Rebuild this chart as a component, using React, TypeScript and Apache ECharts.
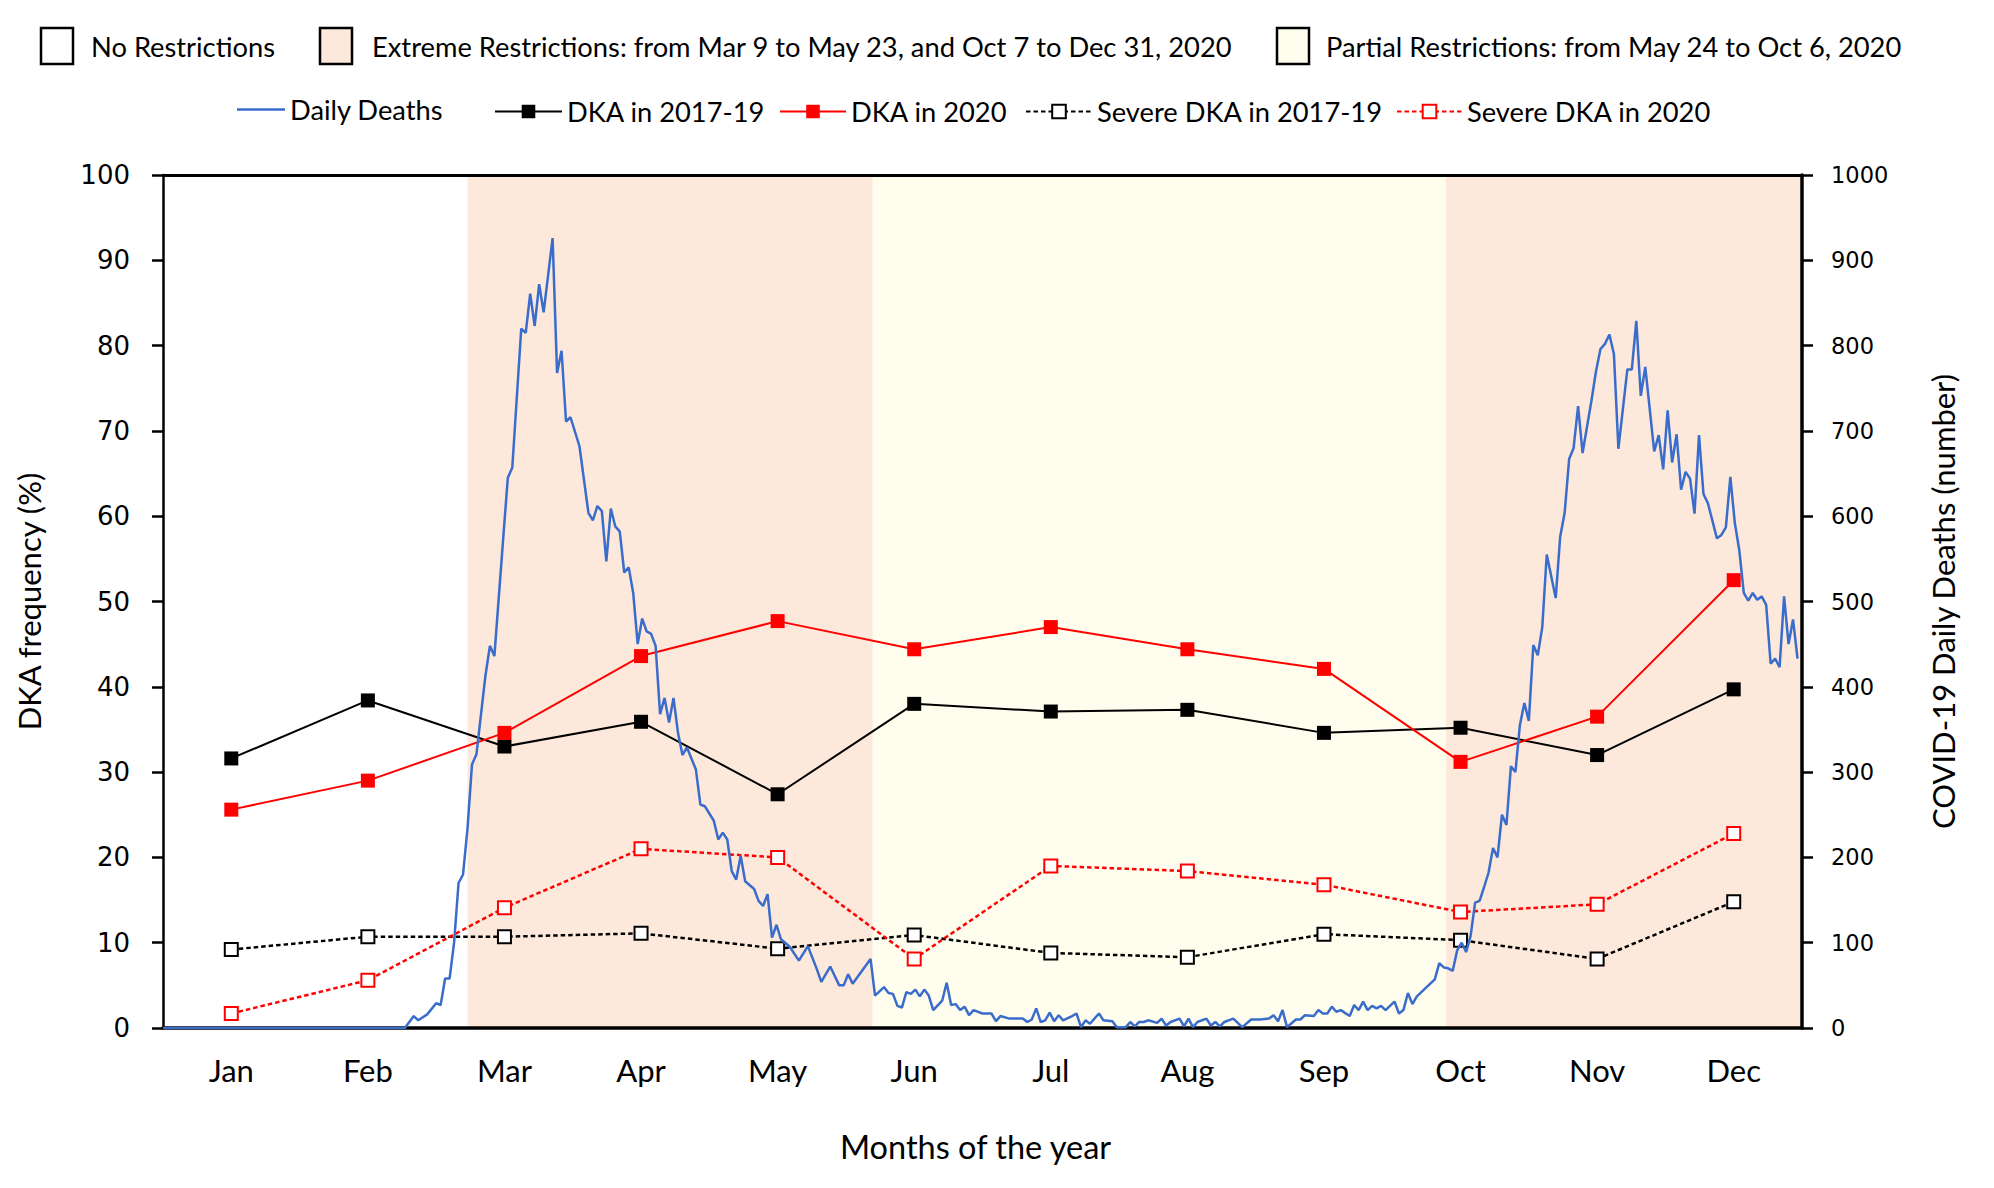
import React, { useEffect, useRef } from 'react';
import * as echarts from 'echarts';

const months = ['Jan', 'Feb', 'Mar', 'Apr', 'May', 'Jun', 'Jul', 'Aug', 'Sep', 'Oct', 'Nov', 'Dec'];
const dka201719 = [31.6, 38.4, 33.0, 35.9, 27.4, 38.0, 37.1, 37.3, 34.6, 35.2, 32.0, 39.7];
const dka2020 = [25.6, 29.0, 34.6, 43.6, 47.7, 44.4, 47.0, 44.4, 42.1, 31.2, 36.5, 52.5];
const severe201719 = [9.2, 10.7, 10.7, 11.1, 9.3, 10.9, 8.8, 8.3, 11.0, 10.3, 8.1, 14.8];
const severe2020 = [1.7, 5.6, 14.1, 21.0, 20.0, 8.1, 19.0, 18.4, 16.8, 13.6, 14.5, 22.8];

// [day of year (Jan 1 = 0), daily deaths]
const dailyDeaths: [number, number][] = [
  [0, 0], [54, 0], [56, 14], [57, 9], [59, 16], [61, 29], [62, 27], [63, 58], [64, 58], [65, 100],
  [66, 170], [67, 180], [68, 234], [69, 309], [70, 321], [72, 413], [73, 448], [74, 436], [76, 576],
  [77, 645], [78, 657], [80, 820], [81, 815], [82, 861], [83, 823], [84, 872], [85, 839], [87, 926],
  [88, 768], [89, 794], [90, 711], [91, 716], [93, 682], [95, 604], [96, 595], [97, 612], [98, 606],
  [99, 547], [100, 609], [101, 588], [102, 582], [103, 534], [104, 540], [105, 510], [106, 450],
  [107, 480], [108, 465], [109, 462], [110, 448], [111, 368], [112, 387], [113, 358], [114, 387],
  [115, 346], [116, 320], [117, 329], [118, 316], [119, 303], [120, 262], [121, 260], [123, 243],
  [124, 221], [125, 229], [126, 221], [127, 184], [128, 174], [129, 202], [130, 172], [132, 163],
  [133, 149], [134, 143], [135, 157], [136, 106], [137, 121], [138, 104], [140, 95], [142, 79],
  [144, 96], [146, 69], [147, 54], [149, 72], [151, 50], [152, 50], [153, 63], [154, 52], [158, 81],
  [159, 38], [161, 48], [162, 41], [163, 40], [164, 26], [165, 24], [166, 42], [167, 40], [168, 45],
  [169, 37], [170, 45], [171, 38], [172, 21], [174, 32], [175, 53], [176, 27], [177, 28], [178, 21],
  [179, 25], [180, 15], [181, 21], [183, 17], [185, 17], [186, 8], [187, 14], [189, 11], [192, 11],
  [193, 7], [194, 10], [195, 23], [196, 7], [197, 9], [198, 18], [199, 8], [200, 15], [201, 9],
  [203, 14], [204, 17], [205, 1], [206, 9], [207, 5], [209, 17], [210, 9], [212, 8], [213, 1],
  [215, 1], [216, 7], [217, 2], [218, 7], [219, 7], [220, 9], [222, 6], [223, 11], [224, 3], [225, 7],
  [227, 11], [228, 2], [229, 11], [230, 1], [231, 7], [233, 11], [234, 3], [235, 7], [236, 2],
  [237, 7], [239, 11], [241, 1], [243, 10], [245, 10], [247, 11], [248, 15], [249, 8], [250, 21],
  [251, 1], [253, 10], [254, 10], [255, 15], [257, 14], [258, 21], [259, 17], [260, 17], [261, 25],
  [262, 19], [263, 21], [265, 14], [266, 27], [267, 21], [268, 31], [269, 21], [270, 26], [271, 23],
  [272, 26], [273, 21], [275, 31], [276, 17], [277, 21], [278, 41], [279, 28], [280, 37], [283, 52],
  [284, 57], [285, 76], [286, 71], [287, 70], [288, 67], [289, 91], [290, 100], [291, 89], [292, 108],
  [293, 147], [294, 149], [295, 165], [296, 182], [297, 211], [298, 200], [299, 250], [300, 238],
  [301, 307], [302, 300], [303, 355], [304, 381], [305, 360], [306, 449], [307, 437], [308, 470],
  [309, 555], [311, 504], [312, 576], [313, 604], [314, 667], [315, 680], [316, 729], [317, 674],
  [319, 736], [320, 770], [321, 796], [322, 802], [323, 813], [324, 790], [325, 679], [327, 772],
  [328, 772], [329, 829], [330, 741], [331, 775], [333, 676], [334, 695], [335, 655], [336, 724],
  [337, 663], [338, 696], [339, 631], [340, 652], [341, 644], [342, 603], [343, 695], [344, 626],
  [345, 615], [347, 574], [348, 578], [349, 587], [350, 646], [351, 592], [352, 560], [353, 510],
  [354, 501], [355, 510], [356, 502], [357, 506], [358, 496], [359, 427], [360, 433], [361, 423],
  [362, 506], [363, 450], [364, 479], [365, 433],
];

// shaded restriction periods, in day-of-year units as drawn
const extremePeriods: [number, number][] = [[68, 158.5], [286.5, 366]];
const partialPeriods: [number, number][] = [[158.5, 286.5]];

const EXTREME = '#FDE9DB';
const PARTIAL = '#FFFDEE';
const BLUE = '#3A6DCB';
const RED = '#FF0000';
const SANS = 'Lato, "Noto Sans", sans-serif';
const NUM = '"DejaVu Sans", Verdana, sans-serif';

const restrictionLegend = [
  { label: 'No Restrictions', fill: '#FFFFFF' },
  { label: 'Extreme Restrictions: from Mar 9 to May 23, and Oct 7 to Dec 31, 2020', fill: EXTREME },
  { label: 'Partial Restrictions: from May 24 to Oct 6, 2020', fill: PARTIAL },
];

export default function App() {
  const ref = useRef<HTMLDivElement>(null);

  useEffect(() => {
    if (!ref.current) return;
    const chart = echarts.init(ref.current, null, { renderer: 'svg' });

    const boxX = [41, 320, 1277];
    const textX = [91, 372, 1326];
    const graphic: any[] = [];
    restrictionLegend.forEach((r, i) => {
      graphic.push({
        type: 'rect',
        shape: { x: boxX[i], y: 28, width: 32, height: 36 },
        style: { fill: r.fill, stroke: '#000', lineWidth: 2.5 },
      });
      graphic.push({
        type: 'text',
        x: textX[i],
        y: 46,
        style: { text: r.label, fontSize: 27.3, fontFamily: SANS, fill: '#000', verticalAlign: 'middle' },
      });
    });

    const legendText = { fontSize: 27.3, fontFamily: SANS, color: '#000' };
    const mkLegend = (name: any, left: number, w: number, h = 17) => ({
      data: [name],
      left,
      top: 98,
      itemWidth: w,
      itemHeight: h,
      itemGap: 0,
      padding: 0,
      selectedMode: false,
      textStyle: legendText,
    });

    const option: any = {
      animation: false,
      backgroundColor: '#fff',
      graphic,
      legend: [
        { ...mkLegend({ name: 'Daily Deaths', icon: 'rect' }, 237, 48, 2.5), top: 113 - 17 },
        mkLegend('DKA in 2017-19', 494, 67),
        mkLegend('DKA in 2020', 779, 66),
        mkLegend('Severe DKA in 2017-19', 1025, 66),
        mkLegend('Severe DKA in 2020', 1396, 65),
      ],
      grid: { left: 163, right: 192, top: 175, bottom: 160, containLabel: false },
      xAxis: [
        {
          type: 'category',
          data: months,
          boundaryGap: true,
          position: 'bottom',
          z: 1,
          axisLine: { show: true, lineStyle: { color: '#000', width: 3.5 } },
          axisTick: { show: false },
          axisLabel: { color: '#000', fontSize: 31, fontFamily: SANS, margin: 26 },
          splitLine: { show: false },
          name: 'Months of the year',
          nameLocation: 'middle',
          nameGap: 102,
          nameTextStyle: { color: '#000', fontSize: 32.5, fontFamily: SANS, padding: [0, 14, 0, 0] },
        },
        {
          type: 'value',
          min: 0,
          max: 366,
          position: 'top',
          z: 1,
          axisLine: { show: true, onZero: false, lineStyle: { color: '#000', width: 3 } },
          axisTick: { show: false },
          axisLabel: { show: false },
          splitLine: { show: false },
        },
      ],
      yAxis: [
        {
          type: 'value',
          min: 0,
          max: 100,
          interval: 10,
          position: 'left',
          z: 1,
          axisLine: { show: true, lineStyle: { color: '#000', width: 2.5 } },
          axisTick: { show: true, length: 11, lineStyle: { color: '#000', width: 2.5 } },
          axisLabel: { color: '#000', fontSize: 26, fontFamily: NUM, margin: 33 },
          splitLine: { show: false },
          name: 'DKA frequency (%)',
          nameLocation: 'middle',
          nameRotate: 90,
          nameGap: 119,
          nameTextStyle: { color: '#000', fontSize: 31, fontFamily: SANS },
        },
        {
          type: 'value',
          min: 0,
          max: 1000,
          interval: 100,
          position: 'right',
          z: 1,
          axisLine: { show: true, lineStyle: { color: '#000', width: 3.5 } },
          axisTick: { show: true, length: 11, lineStyle: { color: '#000', width: 2.5 } },
          axisLabel: {
            color: '#000',
            fontSize: 22.5,
            fontFamily: NUM,
            margin: 29,
            formatter: (v: number) => String(v),
          },
          splitLine: { show: false },
          name: 'COVID-19 Daily Deaths (number)',
          nameLocation: 'middle',
          nameRotate: 90,
          nameGap: 125,
          nameTextStyle: { color: '#000', fontSize: 31, fontFamily: SANS },
        },
      ],
      series: [
        {
          name: 'restrictions',
          type: 'line',
          xAxisIndex: 1,
          yAxisIndex: 1,
          data: [[0, 0], [366, 0]],
          symbol: 'none',
          lineStyle: { width: 0, opacity: 0 },
          silent: true,
          z: 0,
          markArea: {
            silent: true,
            data: [
              ...extremePeriods.map(([a, b]) => [
                { xAxis: a, itemStyle: { color: EXTREME } },
                { xAxis: b },
              ]),
              ...partialPeriods.map(([a, b]) => [
                { xAxis: a, itemStyle: { color: PARTIAL } },
                { xAxis: b },
              ]),
            ],
          },
        },
        {
          name: 'DKA in 2017-19',
          type: 'line',
          data: dka201719,
          symbol: 'rect',
          symbolSize: 14,
          z: 3,
          lineStyle: { color: '#000', width: 2 },
          itemStyle: { color: '#000' },
        },
        {
          name: 'DKA in 2020',
          type: 'line',
          data: dka2020,
          symbol: 'rect',
          symbolSize: 14,
          z: 3,
          lineStyle: { color: RED, width: 2 },
          itemStyle: { color: RED },
        },
        {
          name: 'Severe DKA in 2017-19',
          type: 'line',
          data: severe201719,
          symbol: 'rect',
          symbolSize: 13,
          z: 3,
          lineStyle: { color: '#000', width: 2.5, type: [4.5, 3] },
          itemStyle: { color: '#fff', borderColor: '#000', borderWidth: 2 },
        },
        {
          name: 'Severe DKA in 2020',
          type: 'line',
          data: severe2020,
          symbol: 'rect',
          symbolSize: 13,
          z: 3,
          lineStyle: { color: RED, width: 2.5, type: [4.5, 3] },
          itemStyle: { color: '#fff', borderColor: RED, borderWidth: 2 },
        },
        {
          name: 'Daily Deaths',
          type: 'line',
          xAxisIndex: 1,
          yAxisIndex: 1,
          data: dailyDeaths,
          symbol: 'none',
          z: 4,
          lineStyle: { color: BLUE, width: 2.5 },
          itemStyle: { color: BLUE },
        },
      ],
    };

    chart.setOption(option);
    return () => chart.dispose();
  }, []);

  return (
    <div
      ref={ref}
      style={{ position: 'fixed', left: 0, top: 0, width: '1994px', height: '1188px', background: '#fff' }}
    />
  );
}
